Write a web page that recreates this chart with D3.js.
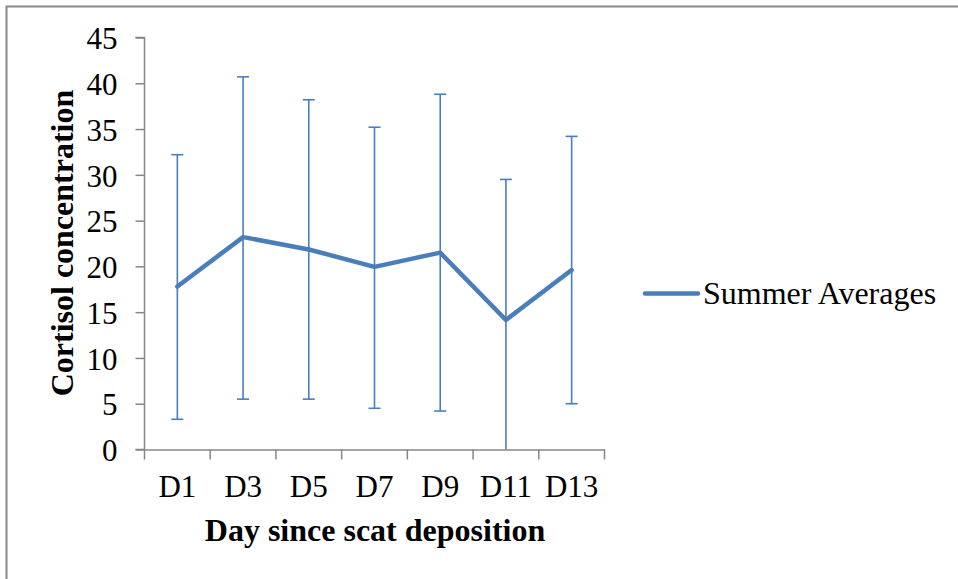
<!DOCTYPE html>
<html>
<head>
<meta charset="utf-8">
<script src="https://cdn.jsdelivr.net/npm/d3@7"></script>
<style>
  body { margin: 0; background: #fff; }
  svg text { font-family: "Liberation Serif", "Times New Roman", serif; fill: #000; }
</style>
</head>
<body>
<svg id="chart" width="958" height="579"></svg>
<script>
const days = ["D1", "D3", "D5", "D7", "D9", "D11", "D13"];
const means = [17.8, 23.2, 21.85, 19.95, 21.5, 14.15, 19.6];
const upper = [32.2, 40.7, 38.2, 35.2, 38.8, 29.5, 34.2];
const lower = [3.3, 5.5, 5.5, 4.5, 4.2, 0, 5.0];
const yTicks = [0, 5, 10, 15, 20, 25, 30, 35, 40, 45];
const seriesName = "Summer Averages";

const svg = d3.select("#chart");
const blue = "#4a7ebb";
const axisGrey = "#868686";
const fs = 31;
const fsBig = 32;

// outer frame (cropped on right and bottom in the source)
svg.append("path")
  .attr("d", "M6.5,579 L6.5,6.5 L958,6.5")
  .attr("fill", "none")
  .attr("stroke", "#888")
  .attr("stroke-width", 2);

const x = d3.scaleBand().domain(days).range([144.5, 604.5]);
const y = d3.scaleLinear().domain([0, 45]).range([449.5, 37.5]);

const xAxis = svg.append("g")
  .attr("transform", "translate(0,449.5)")
  .call(d3.axisBottom(x).tickSize(0));
xAxis.select(".domain").attr("stroke", axisGrey).attr("stroke-width", 1.5);
xAxis.selectAll("text").attr("font-size", fs).attr("dy", null).attr("y", 47);

// tick marks on band boundaries
svg.append("g").selectAll("line")
  .data(d3.range(days.length + 1))
  .join("line")
  .attr("x1", i => 144.5 + i * x.step())
  .attr("x2", i => 144.5 + i * x.step())
  .attr("y1", 449.5)
  .attr("y2", 459.5)
  .attr("stroke", axisGrey)
  .attr("stroke-width", 1.5);

const yAxis = svg.append("g")
  .attr("transform", "translate(144.5,0)")
  .call(d3.axisLeft(y).tickValues(yTicks).tickSize(9).tickPadding(6));
yAxis.select(".domain").attr("stroke", axisGrey).attr("stroke-width", 1.5)
  .attr("d", `M-9,${y(45)}H0V${y(0)}H-9`);
yAxis.selectAll(".tick line").attr("stroke", axisGrey).attr("stroke-width", 1.5);
yAxis.selectAll("text").attr("font-size", fs).attr("x", -27).attr("dy", "0.36em");

const cx = d => x(d) + x.bandwidth() / 2;

// error bars
const eb = svg.append("g").attr("stroke", blue).attr("stroke-width", 1.6);
days.forEach((d, i) => {
  eb.append("line")
    .attr("x1", cx(d)).attr("x2", cx(d))
    .attr("y1", y(upper[i])).attr("y2", y(lower[i]));
  eb.append("line")
    .attr("x1", cx(d) - 6).attr("x2", cx(d) + 6)
    .attr("y1", y(upper[i])).attr("y2", y(upper[i]));
  if (lower[i] > 0) {
    eb.append("line")
      .attr("x1", cx(d) - 6).attr("x2", cx(d) + 6)
      .attr("y1", y(lower[i])).attr("y2", y(lower[i]));
  }
});

const line = d3.line()
  .x((d, i) => cx(days[i]))
  .y(d => y(d));

svg.append("path")
  .datum(means)
  .attr("fill", "none")
  .attr("stroke", blue)
  .attr("stroke-width", 4.5)
  .attr("stroke-linejoin", "round")
  .attr("stroke-linecap", "round")
  .attr("d", line);

// axis titles
svg.append("text")
  .attr("x", 375)
  .attr("y", 541)
  .attr("text-anchor", "middle")
  .attr("font-size", fsBig)
  .attr("font-weight", "bold")
  .text("Day since scat deposition");

svg.append("text")
  .attr("transform", "translate(73,243) rotate(-90)")
  .attr("text-anchor", "middle")
  .attr("font-size", fsBig)
  .attr("font-weight", "bold")
  .text("Cortisol concentration");

// legend
const lg = svg.append("g");
lg.append("line")
  .attr("x1", 645).attr("x2", 698)
  .attr("y1", 293.5).attr("y2", 293.5)
  .attr("stroke", blue)
  .attr("stroke-width", 4.5)
  .attr("stroke-linecap", "round");
lg.append("text")
  .attr("x", 703)
  .attr("y", 304)
  .attr("font-size", fsBig)
  .text(seriesName);
</script>
</body>
</html>
